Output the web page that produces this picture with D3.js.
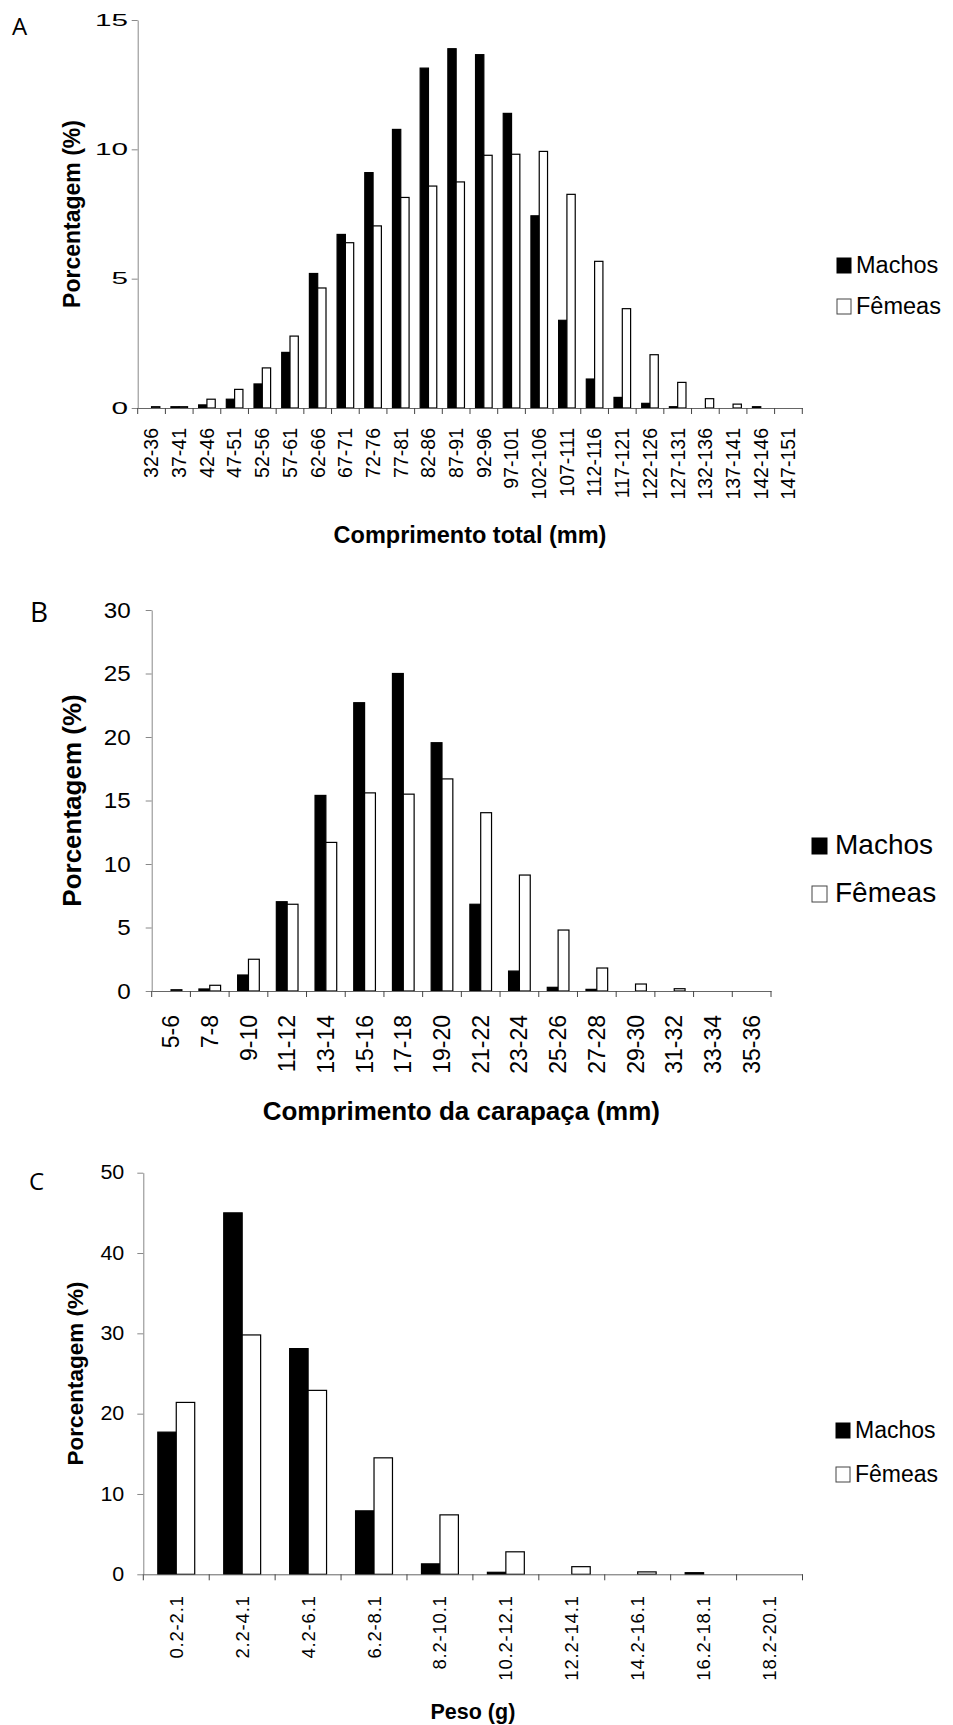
<!DOCTYPE html>
<meta charset="utf-8">
<head>
<style>
body { margin: 0; background: #fff; }
svg text { font-family: "Liberation Sans", Arial, sans-serif; fill: #000; }
.letter { font-family: "Open Sans", "Liberation Sans", sans-serif; }
</style>
</head>
<body>
<div id="chart"></div>
<script src="https://d3js.org/d3.v7.min.js"></script>
<script>

// --- data ---
const seriesNames = ["Machos", "Fêmeas"];

// A: comprimento total (mm)
const catsA = ["32-36","37-41","42-46","47-51","52-56","57-61","62-66","67-71","72-76","77-81","82-86","87-91",
  "92-96","97-101","102-106","107-111","112-116","117-121","122-126","127-131","132-136","137-141","142-146","147-151"];
const machosA = [0, 0.05, 0.12, 0.34, 0.93, 2.15, 5.2, 6.71, 9.1, 10.77, 13.14, 13.89,
  13.66, 11.39, 7.43, 3.39, 1.12, 0.41, 0.18, 0.05, 0, 0, 0.05, 0];
const femeasA = [0.05, 0.05, 0.34, 0.72, 1.55, 2.78, 4.64, 6.39, 7.04, 8.14, 8.58, 8.74,
  9.77, 9.81, 9.92, 8.26, 5.67, 3.84, 2.06, 0.99, 0.36, 0.15, 0, 0];
const ticksA = [0, 5, 10, 15];

// B: comprimento da carapaça (mm)
const catsB = ["5-6","7-8","9-10","11-12","13-14","15-16","17-18","19-20","21-22","23-24","25-26","27-28",
  "29-30","31-32","33-34","35-36"];
const machosB = [0, 0.16, 1.26, 7.03, 15.4, 22.7, 25.0, 19.55, 6.83, 1.57, 0.29, 0.13, 0, 0, 0, 0];
const femeasB = [0.1, 0.45, 2.5, 6.83, 11.7, 15.6, 15.5, 16.7, 14.04, 9.13, 4.8, 1.81, 0.55, 0.18, 0, 0];
const ticksB = [0, 5, 10, 15, 20, 25, 30];

// C: peso (g)
const catsC = ["0.2-2.1","2.2-4.1","4.2-6.1","6.2-8.1","8.2-10.1","10.2-12.1","12.2-14.1","14.2-16.1","16.2-18.1","18.2-20.1"];
const machosC = [17.7, 45.0, 28.1, 7.9, 1.3, 0.25, 0, 0, 0.2, 0];
const femeasC = [21.4, 29.8, 22.9, 14.5, 7.4, 2.8, 0.95, 0.3, 0, 0];
const ticksC = [0, 10, 20, 30, 40, 50];

const fills = {"Machos": "#000", "Fêmeas": "#fff"};

const svg = d3.select('#chart')
  .append('svg')
  .attr('width', 953)
  .attr('height', 1725);

function drawPanel(p) {
  const g = svg.append('g');

  const x = d3.scaleBand().domain(p.cats).range([p.left, p.right]);
  const xs = d3.scaleBand().domain(seriesNames).range([0, x.bandwidth()]).paddingOuter(p.barPad);
  const y = d3.scaleLinear().domain([0, p.ymax]).range([p.bottom, p.top]);

  // bars
  const rows = p.cats.map((c, i) => ({cat: c, vals: [p.m[i], p.f[i]]}));
  g.selectAll('g.grp')
    .data(rows)
    .join('g')
    .attr('class', 'grp')
    .attr('transform', d => `translate(${x(d.cat)},0)`)
    .selectAll('rect')
    .data(d => d.vals.map((v, j) => ({name: seriesNames[j], v: v})).filter(e => e.v > 0))
    .join('rect')
    .attr('x', d => xs(d.name))
    .attr('width', xs.bandwidth())
    .attr('y', d => y(d.v))
    .attr('height', d => y(0) - y(d.v))
    .attr('fill', d => fills[d.name])
    .attr('stroke', '#000')
    .attr('stroke-width', 1.2);

  // y axis
  const ya = g.append('g')
    .attr('transform', `translate(${p.left},0)`)
    .call(d3.axisLeft(y).tickValues(p.yTicks).tickSize(6).tickSizeOuter(0));
  ya.select('.domain').attr('stroke', '#888');
  ya.selectAll('.tick line').attr('stroke', '#888');
  ya.selectAll('.tick text')
    .style('font-size', p.yFont + 'px')
    .attr('x', -p.yGap / p.yStretch)
    .attr('transform', `scale(${p.yStretch},1)`);

  // x axis (labels at band centres, ticks at band edges)
  const xa = g.append('g')
    .attr('transform', `translate(0,${p.bottom})`)
    .call(d3.axisBottom(x).tickSize(0).tickSizeOuter(0));
  xa.select('.domain').attr('stroke', '#666');
  xa.selectAll('.tick text')
    .style('font-size', p.xFont + 'px')
    .style('letter-spacing', (p.xSpacing || 0) + 'px')
    .attr('transform', 'rotate(-90)')
    .attr('text-anchor', 'end')
    .attr('x', -p.xGap)
    .attr('y', 0)
    .attr('dy', '0.35em');
  xa.selectAll('line.edge')
    .data(p.cats.map(c => x(c)).concat([x.range()[1]]))
    .join('line')
    .attr('class', 'edge')
    .attr('x1', d => d).attr('x2', d => d)
    .attr('y1', 0).attr('y2', 6)
    .attr('stroke', '#444');

  // axis titles
  g.append('text')
    .attr('x', (p.left + p.right) / 2)
    .attr('y', p.xTitleY)
    .attr('text-anchor', 'middle')
    .style('font-weight', 'bold')
    .style('font-size', p.xTitleFont + 'px')
    .text(p.xTitle);

  g.append('text')
    .attr('transform', `translate(${p.yTitleX},${(p.top + p.bottom) / 2}) rotate(-90)`)
    .attr('text-anchor', 'middle')
    .attr('dy', '0.35em')
    .style('font-weight', 'bold')
    .style('font-size', p.yTitleFont + 'px')
    .text('Porcentagem (%)');

  // panel letter
  g.append('text')
    .attr('class', 'letter')
    .attr('x', p.letterX)
    .attr('y', p.letterY)
    .style('font-size', p.letterFont + 'px')
    .text(p.letter);

  // legend
  const lg = g.selectAll('g.leg')
    .data(seriesNames)
    .join('g')
    .attr('class', 'leg')
    .attr('transform', (d, i) => `translate(${p.legX},${p.legY[i]})`);
  lg.append('rect')
    .attr('x', 0)
    .attr('y', -p.legBox)
    .attr('width', p.legBox - 1)
    .attr('height', p.legBox)
    .attr('fill', d => fills[d])
    .attr('stroke', d => d === 'Machos' ? '#000' : '#444');
  lg.append('text')
    .attr('x', p.legTextDx)
    .attr('y', 0)
    .style('font-size', p.legFont + 'px')
    .text(d => d);
}

drawPanel({
  cats: catsA, m: machosA, f: femeasA, yTicks: ticksA, ymax: 15,
  left: 137.7, right: 802.3, top: 20, bottom: 408, barPad: 0.667,
  yFont: 16.5, yStretch: 1.8, yGap: 9.7, xFont: 19.5, xGap: 20,
  xTitle: 'Comprimento total (mm)', xTitleY: 543, xTitleFont: 23.5,
  yTitleX: 72, yTitleFont: 23,
  letter: 'A', letterX: 12, letterY: 35, letterFont: 24,
  legX: 837, legY: [273, 314], legBox: 15, legTextDx: 19, legFont: 23.5
});

drawPanel({
  cats: catsB, m: machosB, f: femeasB, yTicks: ticksB, ymax: 30,
  left: 151.7, right: 771, top: 610, bottom: 991, barPad: 0.786,
  yFont: 22, yStretch: 1.1, yGap: 21, xFont: 23, xGap: 24,
  xTitle: 'Comprimento da carapaça (mm)', xTitleY: 1120, xTitleFont: 26,
  yTitleX: 72, yTitleFont: 26,
  letter: 'B', letterX: 30, letterY: 622, letterFont: 28,
  legX: 812, legY: [854, 902], legBox: 16, legTextDx: 23, legFont: 28
});

drawPanel({
  cats: catsC, m: machosC, f: femeasC, yTicks: ticksC, ymax: 50,
  left: 143.3, right: 802.5, top: 1172.7, bottom: 1574.3, barPad: 0.786,
  yFont: 19.5, yStretch: 1.1, yGap: 19, xFont: 18.5, xGap: 21, xSpacing: 0.8,
  xTitle: 'Peso (g)', xTitleY: 1719, xTitleFont: 21.5,
  yTitleX: 75, yTitleFont: 22.5,
  letter: 'C', letterX: 29, letterY: 1190, letterFont: 24,
  legX: 836, legY: [1438, 1482], legBox: 15, legTextDx: 19, legFont: 23
});

</script>
</body>
